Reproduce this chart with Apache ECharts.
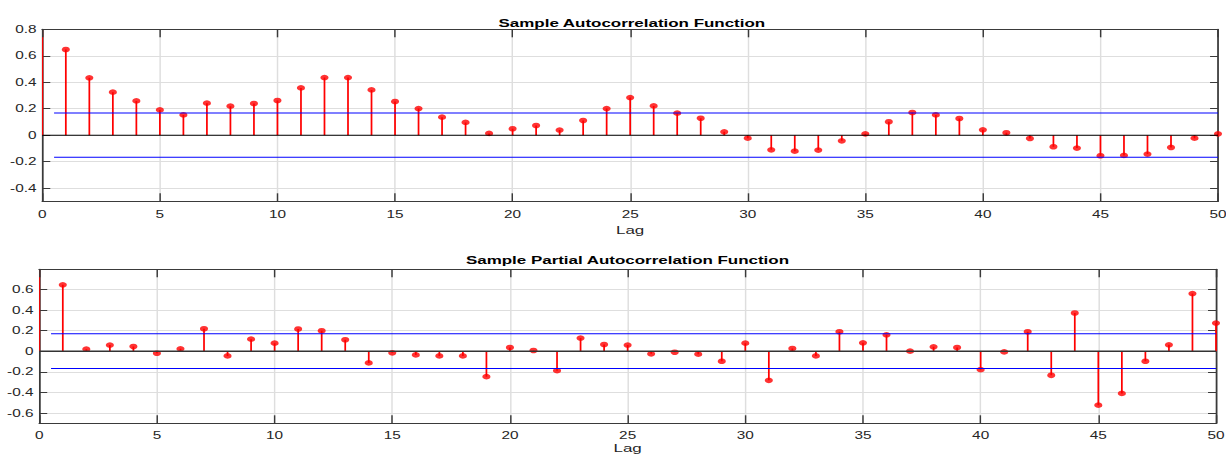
<!DOCTYPE html>
<html>
<head>
<meta charset="utf-8">
<script src="https://cdn.jsdelivr.net/npm/echarts@6/dist/echarts.min.js"></script>
<style>
  html, body { margin: 0; padding: 0; background: #ffffff; overflow: hidden; width: 1226px; height: 456px; }
  /* the figure is laid out narrower and widened horizontally */
  #chart { width: 846px; height: 456px; transform: scaleX(1.44917); transform-origin: 0 0; }
</style>
</head>
<body>
<div id="chart"></div>
<script>
// Lags 0..50
const lags = [0, 1, 2, 3, 4, 5, 6, 7, 8, 9, 10, 11, 12, 13, 14, 15, 16, 17, 18, 19, 20,
  21, 22, 23, 24, 25, 26, 27, 28, 29, 30, 31, 32, 33, 34, 35, 36, 37, 38, 39, 40,
  41, 42, 43, 44, 45, 46, 47, 48, 49, 50];

// Sample autocorrelation per lag
const acfValues = [1.000, 0.647, 0.433, 0.325, 0.259, 0.191, 0.153, 0.242, 0.219, 0.239, 0.262,
  0.357, 0.435, 0.435, 0.342, 0.254, 0.201, 0.136, 0.096, 0.013, 0.048,
  0.073, 0.038, 0.111, 0.201, 0.284, 0.221, 0.166, 0.128, 0.025, -0.023,
  -0.111, -0.121, -0.113, -0.043, 0.010, 0.101, 0.171, 0.153, 0.126, 0.040,
  0.018, -0.025, -0.088, -0.098, -0.156, -0.153, -0.143, -0.093, -0.023, 0.010];

// Sample partial autocorrelation per lag
const pacfValues = [1.000, 0.644, 0.020, 0.059, 0.046, -0.020, 0.023, 0.218, -0.046, 0.117, 0.078,
  0.215, 0.198, 0.111, -0.114, -0.016, -0.036, -0.046, -0.046, -0.247, 0.036,
  0.007, -0.189, 0.127, 0.065, 0.059, -0.026, -0.010, -0.029, -0.098, 0.078,
  -0.283, 0.026, -0.046, 0.189, 0.081, 0.159, 0.000, 0.042, 0.036, -0.179,
  -0.007, 0.189, -0.234, 0.371, -0.524, -0.410, -0.098, 0.062, 0.559, 0.273];

// Approximate 95% confidence bounds
const acfBound = 0.168;
const pacfBound = 0.169;

// Axis ticks
const xTickStep = 5;
const acfYTicks = [-0.4, -0.2, 0, 0.2, 0.4, 0.6, 0.8];
const pacfYTicks = [-0.6, -0.4, -0.2, 0, 0.2, 0.4, 0.6];

const FONT = "'Liberation Sans', Arial, Helvetica, sans-serif";
const STEM = '#ff0000';
const BOX = '#3a3a3a';
const GRIDLINE = '#dedede';
const TEXT = '#262626';

function pairs(values) {
  return lags.map((l, i) => [l, values[i]]);
}

function stemItem(params, api) {
  const x = api.value(0);
  const base = api.coord([x, 0]);
  const tip = api.coord([x, api.value(1)]);
  return {
    type: 'line',
    shape: { x1: base[0], y1: base[1], x2: tip[0], y2: tip[1] },
    style: { stroke: STEM, lineWidth: 1.2 }
  };
}

function xAxes(gridIndex, labelMargin, nameGap) {
  return [
    {
      gridIndex, type: 'value', min: 0, max: 50, interval: xTickStep, position: 'bottom',
      name: 'Lag', nameLocation: 'middle', nameGap,
      nameTextStyle: { fontFamily: FONT, fontSize: 11.7, color: TEXT },
      axisLine: { show: true, onZero: false, lineStyle: { color: BOX, width: 1.2 } },
      axisTick: { show: true, inside: true, length: 8, lineStyle: { color: BOX, width: 1 } },
      axisLabel: { fontFamily: FONT, fontSize: 10.6, color: TEXT, margin: labelMargin },
      splitLine: { show: true, lineStyle: { color: GRIDLINE, width: 1 } }
    },
    {
      gridIndex, type: 'value', min: 0, max: 50, interval: xTickStep, position: 'top', z: 3,
      axisLine: { show: true, onZero: false, lineStyle: { color: BOX, width: 1.2 } },
      axisTick: { show: true, inside: true, length: 8, lineStyle: { color: BOX, width: 1 } },
      axisLabel: { show: false },
      splitLine: { show: false }
    }
  ];
}

function yAxes(gridIndex, min, max, ticks) {
  return [
    {
      gridIndex, type: 'value', min, max, position: 'left',
      axisLine: { show: true, onZero: false, lineStyle: { color: BOX, width: 1.2 } },
      axisTick: { show: true, inside: true, length: 5.5, customValues: ticks, lineStyle: { color: BOX, width: 1 } },
      axisLabel: {
        fontFamily: FONT, fontSize: 10.6, color: TEXT, margin: 4, customValues: ticks,
        formatter: v => (Math.abs(v) < 1e-9 ? '0' : String(Math.round(v * 10) / 10))
      },
      splitLine: { show: true, lineStyle: { color: GRIDLINE, width: 1 } }
    },
    {
      gridIndex, type: 'value', min, max, position: 'right',
      axisLine: { show: true, onZero: false, lineStyle: { color: BOX, width: 1.2 } },
      axisTick: { show: true, inside: true, length: 5.5, customValues: ticks, lineStyle: { color: BOX, width: 1 } },
      axisLabel: { show: false, customValues: ticks },
      splitLine: { show: false }
    }
  ];
}

function panelSeries(values, bound, xi, yi, zeroColor, zeroWidth) {
  return [
    {
      type: 'custom', xAxisIndex: xi, yAxisIndex: yi, clip: true, z: 2,
      renderItem: stemItem, data: pairs(values)
    },
    {
      type: 'scatter', xAxisIndex: xi, yAxisIndex: yi, z: 3,
      symbol: 'circle', symbolSize: 5.6, itemStyle: { color: STEM }, data: pairs(values)
    },
    {
      type: 'line', xAxisIndex: xi, yAxisIndex: yi, z: 4, showSymbol: false, silent: true,
      lineStyle: { color: zeroColor, width: zeroWidth }, data: [[0, 0], [50, 0]]
    },
    {
      type: 'line', xAxisIndex: xi, yAxisIndex: yi, z: 4, showSymbol: false, silent: true,
      lineStyle: { color: '#0000ff', width: 1 }, data: [[0.5, bound], [50, bound]]
    },
    {
      type: 'line', xAxisIndex: xi, yAxisIndex: yi, z: 4, showSymbol: false, silent: true,
      lineStyle: { color: '#0000ff', width: 1 }, data: [[0.5, -bound], [50, -bound]]
    }
  ];
}

const chart = echarts.init(document.getElementById('chart'), null, { renderer: 'svg' });

chart.setOption({
  animation: false,
  backgroundColor: '#ffffff',
  title: [
    {
      text: 'Sample Autocorrelation Function', left: 436, top: 16.5, textAlign: 'center', padding: 0,
      textStyle: { fontFamily: FONT, fontSize: 11.7, fontWeight: 'bold', color: '#000000' }
    },
    {
      text: 'Sample Partial Autocorrelation Function', left: 433, top: 253.5, textAlign: 'center', padding: 0,
      textStyle: { fontFamily: FONT, fontSize: 11.7, fontWeight: 'bold', color: '#000000' }
    }
  ],
  grid: [
    { left: 29.2, right: 5.5, top: 29.3, height: 172, containLabel: false, outerBoundsMode: 'none' },
    { left: 27.1, right: 6.9, top: 269.3, height: 154, containLabel: false, outerBoundsMode: 'none' }
  ],
  xAxis: [...xAxes(0, 8, 23), ...xAxes(1, 7, 19)],
  yAxis: [...yAxes(0, -0.5, 0.8, acfYTicks), ...yAxes(1, -0.7, 0.795, pacfYTicks)],
  series: [
    ...panelSeries(acfValues, acfBound, 0, 0, '#000000', 1),
    ...panelSeries(pacfValues, pacfBound, 2, 2, '#333333', 1.6)
  ]
});
</script>
</body>
</html>
